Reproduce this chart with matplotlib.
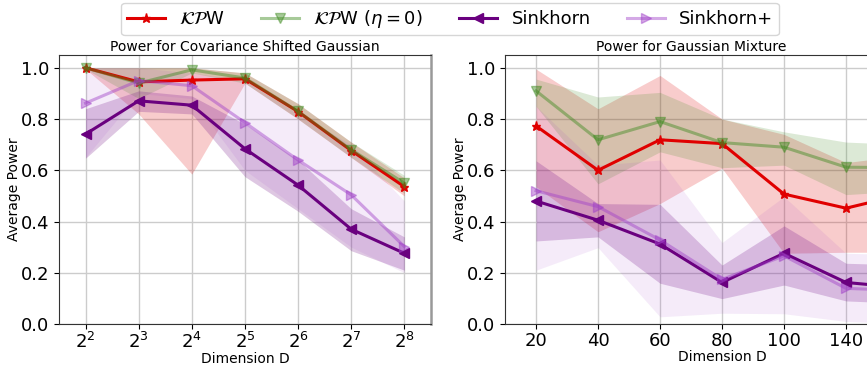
import numpy as np
import matplotlib.pyplot as plt

# left panel: covariance shifted gaussian
dims_exp = [2, 3, 4, 5, 6, 7, 8]
cov_kpw = [1.0, 0.945, 0.952, 0.957, 0.829, 0.677, 0.536]
cov_kpw_lo = [0.995, 0.82, 0.585, 0.94, 0.80, 0.65, 0.50]
cov_kpw_hi = [1.0, 1.0, 1.0, 0.98, 0.86, 0.71, 0.57]
cov_kpw0 = [1.0, 0.94, 0.992, 0.96, 0.83, 0.68, 0.55]
cov_kpw0_lo = [0.995, 0.88, 0.98, 0.94, 0.80, 0.65, 0.51]
cov_kpw0_hi = [1.0, 1.0, 1.0, 0.98, 0.86, 0.71, 0.58]
cov_sk = [0.741, 0.871, 0.854, 0.684, 0.542, 0.37, 0.276]
cov_sk_lo = [0.647, 0.83, 0.82, 0.575, 0.44, 0.286, 0.21]
cov_sk_hi = [0.84, 0.91, 0.89, 0.78, 0.64, 0.45, 0.34]
cov_skp = [0.862, 0.95, 0.93, 0.786, 0.64, 0.504, 0.302]
cov_skp_lo = [0.65, 0.90, 0.88, 0.60, 0.45, 0.30, 0.20]
cov_skp_hi = [1.0, 1.0, 0.98, 0.95, 0.82, 0.70, 0.48]

# right panel: gaussian mixture (last point lies past the cropped edge)
mix_dims = [20, 40, 60, 80, 100, 140, 200]
mix_kpw = [0.773, 0.60, 0.719, 0.704, 0.507, 0.452, 0.51]
mix_kpw_lo = [0.536, 0.36, 0.47, 0.608, 0.276, 0.28, 0.28]
mix_kpw_hi = [0.995, 0.84, 0.97, 0.80, 0.74, 0.63, 0.66]
mix_kpw0 = [0.91, 0.719, 0.79, 0.708, 0.69, 0.612, 0.61]
mix_kpw0_lo = [0.85, 0.547, 0.672, 0.61, 0.62, 0.505, 0.52]
mix_kpw0_hi = [0.956, 0.886, 0.904, 0.80, 0.75, 0.71, 0.70]
mix_sk = [0.48, 0.405, 0.312, 0.162, 0.276, 0.162, 0.14]
mix_sk_lo = [0.324, 0.34, 0.159, 0.099, 0.152, 0.09, 0.08]
mix_sk_hi = [0.637, 0.47, 0.467, 0.23, 0.383, 0.237, 0.23]
mix_skp = [0.52, 0.458, 0.328, 0.174, 0.266, 0.139, 0.13]
mix_skp_lo = [0.21, 0.298, 0.028, 0.042, 0.04, 0.01, 0.0]
mix_skp_hi = [0.85, 0.62, 0.64, 0.318, 0.497, 0.276, 0.27]

labels = [r'$\mathcal{KP}$W', r'$\mathcal{KP}$W ($\eta=0$)', 'Sinkhorn', 'Sinkhorn+']
styles = [
    dict(color='#e00000', marker='*', alpha=1.0, fill=0.2),
    dict(color='#3d8a1e', marker='v', alpha=0.45, fill=0.18),
    dict(color='#6a007f', marker='<', alpha=1.0, fill=0.22),
    dict(color='#a040c8', marker='>', alpha=0.45, fill=0.1),
]

fig = plt.figure(figsize=(8.67, 3.68), dpi=100)
ax1 = fig.add_axes([0.068, 0.1196, 0.429, 0.731])
ax2 = fig.add_axes([0.5825, 0.1196, 0.5006, 0.731])


def draw(ax, series, ticklabels, nticks):
    x = np.arange(len(ticklabels))
    handles = []
    for (mean, lo, hi), st in zip(series, styles):
        ax.fill_between(x, lo, hi, color=st['color'], alpha=st['fill'], lw=0)
        h, = ax.plot(x, mean, color=st['color'], marker=st['marker'],
                     alpha=st['alpha'], lw=2.2, ms=6.5)
        handles.append(h)
    ax.set_xticks(x[:nticks])
    ax.set_xticklabels(ticklabels[:nticks], fontsize=13)
    ax.set_xlim(-0.5, len(x) - 0.5)
    ax.set_ylim(0, 1.05)
    ax.set_yticks([0, 0.2, 0.4, 0.6, 0.8, 1.0])
    ax.tick_params(axis='y', labelsize=13)
    ax.tick_params(axis='x', pad=2)
    ax.grid(True, color='#cccccc', lw=1)
    ax.set_axisbelow(True)
    ax.set_xlabel('Dimension D', fontsize=10, labelpad=0)
    ax.set_ylabel('Average Power', fontsize=10, labelpad=0)
    for sp in ax.spines.values():
        sp.set_color('#333333')
    return handles


handles = draw(ax1,
               [(cov_kpw, cov_kpw_lo, cov_kpw_hi),
                (cov_kpw0, cov_kpw0_lo, cov_kpw0_hi),
                (cov_sk, cov_sk_lo, cov_sk_hi),
                (cov_skp, cov_skp_lo, cov_skp_hi)],
               [r'$2^{%d}$' % d for d in dims_exp], 7)
ax1.set_title('Power for Covariance Shifted Gaussian', fontsize=10, pad=3)
ax1.spines['right'].set_color('#999999')
ax1.spines['right'].set_linewidth(1.8)

draw(ax2,
     [(mix_kpw, mix_kpw_lo, mix_kpw_hi),
      (mix_kpw0, mix_kpw0_lo, mix_kpw0_hi),
      (mix_sk, mix_sk_lo, mix_sk_hi),
      (mix_skp, mix_skp_lo, mix_skp_hi)],
     [str(d) for d in mix_dims], 6)
ax2.set_title('Power for Gaussian Mixture', fontsize=10, pad=3, x=0.43)

fig.legend(handles, labels, loc='center', ncol=4, fontsize=13,
           bbox_to_anchor=(450 / 867, 1 - 19 / 368), frameon=True,
           handlelength=2.1, columnspacing=2.0, borderpad=0.3)

fig.savefig('out.png', dpi=100)
